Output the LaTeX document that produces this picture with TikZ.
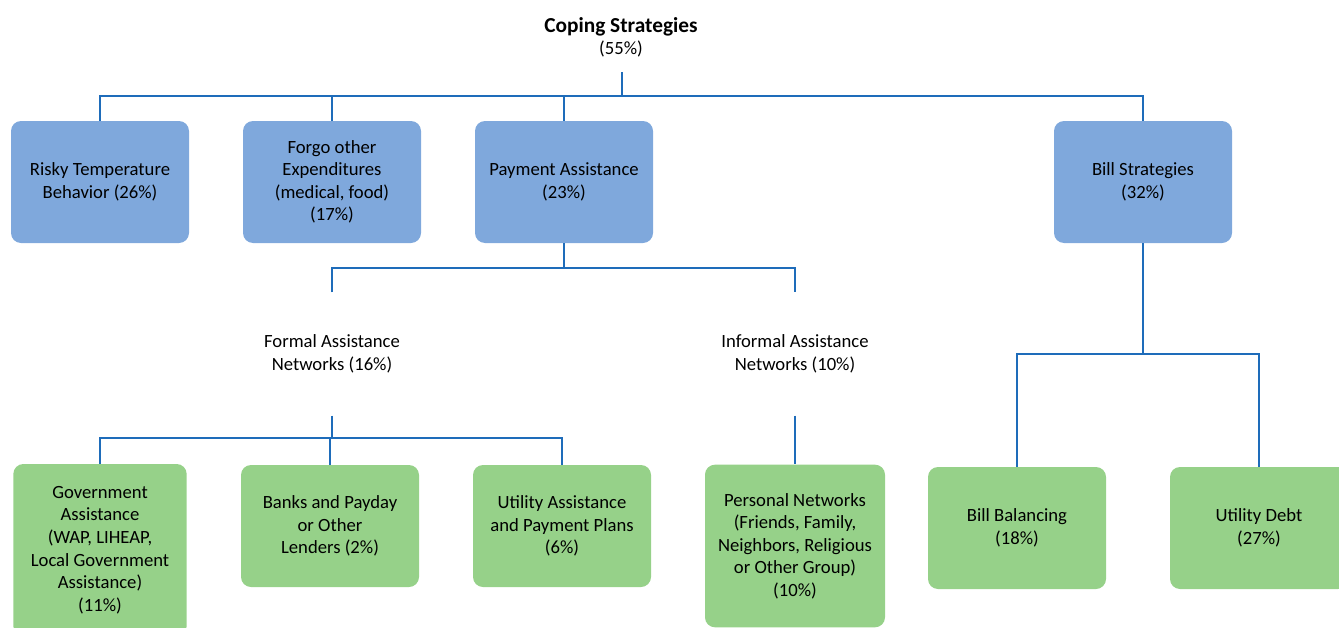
\documentclass[tikz,border=0pt]{standalone}
\usepackage{fontspec}
\setmainfont{Carlito}
\definecolor{boxblue}{RGB}{127,168,220}
\definecolor{boxgreen}{RGB}{150,209,137}
\definecolor{linkblue}{RGB}{30,108,186}
\begin{document}
\begin{tikzpicture}[x=0.75pt,y=-0.75pt,
  font=\fontsize{14}{16.9}\selectfont,
  box/.style={rounded corners=7.5pt,minimum width=133.5pt,minimum height=91.5pt,inner sep=2pt,align=center},
  bluebox/.style={box,fill=boxblue},
  greenbox/.style={box,fill=boxgreen},
  plainbox/.style={minimum width=133.5pt,minimum height=92pt,inner sep=0pt,align=center},
  link/.style={draw=linkblue,line width=1.5pt}]
\useasboundingbox (0,0) rectangle (1339,628);
\clip (0,0) rectangle (1339,628);
% title
\node[align=center] (title) at (621,37.5) {{\fontsize{16}{18}\selectfont\bfseries Coping Strategies}\\(55\%)};
\coordinate (titlefoot) at (622,72);
\coordinate (topjoin) at (622,96);
% first level
\node[bluebox] (risky) at (100,182) {Risky Temperature\\Behavior (26\%)};
\node[bluebox] (forgo) at (332,182) {Forgo other\\Expenditures\\(medical, food)\\(17\%)};
\node[bluebox] (payment) at (564,182) {Payment Assistance\\(23\%)};
\node[bluebox] (bills) at (1143,182) {Bill Strategies\\(32\%)};
% second level
\coordinate (payjoin) at (564,268);
\node[plainbox] (formal) at (332,354) {Formal Assistance\\Networks (16\%)};
\node[plainbox] (informal) at (795,354) {Informal Assistance\\Networks (10\%)};
\coordinate (formaljoin) at (332,438);
\coordinate (billjoin) at (1143,354);
% third level
\node[greenbox,minimum width=130pt,minimum height=129pt] (govt) at (100,550) {Government\\Assistance\\(WAP, LIHEAP,\\Local Government\\Assistance)\\(11\%)};
\node[greenbox] (banks) at (330,526) {Banks and Payday\\or Other\\Lenders (2\%)};
\node[greenbox] (utilassist) at (562,526) {Utility Assistance\\and Payment Plans\\(6\%)};
\node[greenbox,minimum width=135pt,minimum height=122pt] (personal) at (795,546) {Personal Networks\\(Friends, Family,\\Neighbors, Religious\\or Other Group)\\(10\%)};
\node[greenbox] (balancing) at (1017,528) {Bill Balancing\\(18\%)};
\node[greenbox] (debt) at (1259,528) {Utility Debt\\(27\%)};
% connectors
\draw[link] (titlefoot) -- (topjoin);
\draw[link] (risky.north) |- (topjoin) -| (bills.north);
\draw[link] (forgo.north) |- (topjoin);
\draw[link] (payment.north) |- (topjoin);
\draw[link] (payment.south) -- (payjoin);
\draw[link] (formal.north) |- (payjoin) -| (informal.north);
\draw[link] (formal.south) -- (formaljoin);
\draw[link] (govt.north) |- (formaljoin) -| (utilassist.north);
\draw[link] (banks.north) |- (formaljoin);
\draw[link] (informal.south) -- (personal.north);
\draw[link] (bills.south) -- (billjoin);
\draw[link] (balancing.north) |- (billjoin) -| (debt.north);
\end{tikzpicture}
\end{document}
